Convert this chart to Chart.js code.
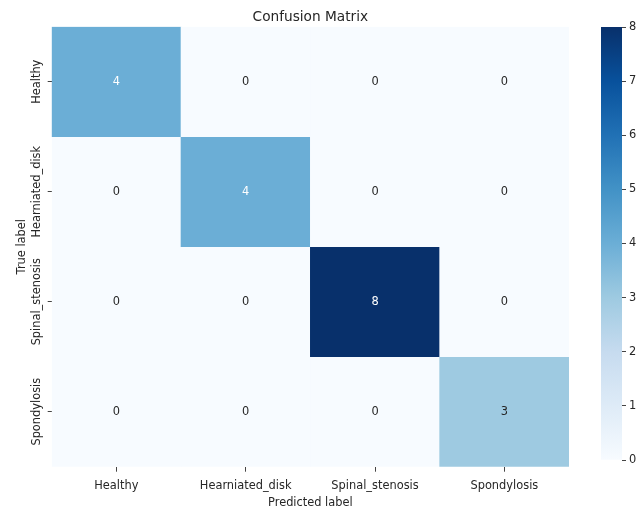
<!DOCTYPE html>
<html>
<head>
<meta charset="utf-8">
<script src="https://cdn.jsdelivr.net/npm/chart.js@4.4.1/dist/chart.umd.min.js"></script>
<style>
  html, body { margin: 0; padding: 0; background: #fff; overflow: hidden; }
  #wrap { position: relative; width: 636px; height: 508px; overflow: hidden; }
  #cm { position: absolute; left: 0; top: 0; }
  #cbar { position: absolute; left: 595px; top: 0; }
</style>
</head>
<body>
<div id="wrap">
  <canvas id="cm" width="636" height="508"></canvas>
  <canvas id="cbar" width="60" height="508"></canvas>
</div>
<script>
// class labels
const predictedLabels = ['Healthy', 'Hearniated_disk', 'Spinal_stenosis', 'Spondylosis'];
const trueLabels = ['Healthy', 'Hearniated_disk', 'Spinal_stenosis', 'Spondylosis'];

// rows = true label, columns = predicted label
const rowHealthy = [4, 0, 0, 0];
const rowHearniated = [0, 4, 0, 0];
const rowStenosis = [0, 0, 8, 0];
const rowSpondylosis = [0, 0, 0, 3];

// colorbar
const colorbarTicks = [0, 1, 2, 3, 4, 5, 6, 7, 8];
const colorbarMin = 0;
const colorbarMax = 8;

const matrix = [rowHealthy, rowHearniated, rowStenosis, rowSpondylosis];

// matplotlib "Blues"
const blues = ['#f7fbff', '#deebf7', '#c6dbef', '#9ecae1', '#6baed6', '#4292c6', '#2171b5', '#08519c', '#08306b'];
const textDark = '#262626';
const fontFamily = '"DejaVu Sans", sans-serif';
const fontSize = 11.4;

function hexToRgb(h) {
  const n = parseInt(h.slice(1), 16);
  return [(n >> 16) & 255, (n >> 8) & 255, n & 255];
}

function bluesAt(t) {
  t = Math.max(0, Math.min(1, t));
  const pos = t * (blues.length - 1);
  const i = Math.min(Math.floor(pos), blues.length - 2);
  const f = pos - i;
  const a = hexToRgb(blues[i]);
  const b = hexToRgb(blues[i + 1]);
  return a.map((v, k) => v + (b[k] - v) * f);
}

function colorFor(v) {
  const c = bluesAt((v - colorbarMin) / (colorbarMax - colorbarMin));
  return 'rgb(' + c.map(Math.round).join(',') + ')';
}

// white text on dark cells, like seaborn annot
function textColorFor(v) {
  const c = bluesAt((v - colorbarMin) / (colorbarMax - colorbarMin)).map(x => {
    x /= 255;
    return x <= 0.03928 ? x / 12.92 : Math.pow((x + 0.055) / 1.055, 2.4);
  });
  const lum = 0.2126 * c[0] + 0.7152 * c[1] + 0.0722 * c[2];
  return lum > 0.408 ? textDark : '#ffffff';
}

// numbers inside cells
const cellText = {
  id: 'cellText',
  afterDatasetsDraw(chart) {
    const ctx = chart.ctx;
    ctx.save();
    ctx.font = fontSize + 'px ' + fontFamily;
    ctx.textAlign = 'center';
    ctx.textBaseline = 'middle';
    chart.data.datasets.forEach((ds, i) => {
      chart.getDatasetMeta(i).data.forEach((bar, j) => {
        const v = matrix[i][j];
        ctx.fillStyle = textColorFor(v);
        ctx.fillText(String(v), bar.x, (bar.y + bar.base) / 2);
      });
    });
    ctx.restore();
  }
};

// rotated y tick labels
const yLabels = {
  id: 'yLabels',
  afterDraw(chart) {
    const ctx = chart.ctx;
    const y = chart.scales.y;
    ctx.save();
    ctx.font = fontSize + 'px ' + fontFamily;
    ctx.fillStyle = textDark;
    ctx.textAlign = 'center';
    ctx.textBaseline = 'middle';
    trueLabels.forEach((lab, i) => {
      ctx.save();
      ctx.translate(y.right - 14.5, y.getPixelForValue(i + 0.5));
      ctx.rotate(-Math.PI / 2);
      ctx.fillText(lab, 0, 0);
      ctx.restore();
    });
    ctx.restore();
  }
};

new Chart(document.getElementById('cm'), {
  type: 'bar',
  data: {
    labels: predictedLabels,
    datasets: matrix.map((row, i) => ({
      label: trueLabels[i],
      data: row.map(() => [i, i + 1]),
      backgroundColor: row.map(colorFor),
      borderWidth: 0,
      grouped: false,
      barPercentage: 1,
      categoryPercentage: 1
    }))
  },
  options: {
    responsive: false,
    animation: false,
    layout: { padding: { left: 0, right: 67, top: 0, bottom: -2 } },
    plugins: {
      legend: { display: false },
      tooltip: { enabled: false },
      title: {
        display: true,
        text: 'Confusion Matrix',
        fullSize: false,
        color: textDark,
        font: { family: fontFamily, size: 13.7, weight: 'normal' },
        padding: { top: 9, bottom: 1.3 }
      }
    },
    scales: {
      x: {
        type: 'category',
        offset: true,
        afterFit: s => { s.height = 43.3; },
        grid: { offset: false, drawOnChartArea: false, tickLength: 5, color: '#444' },
        border: { display: false },
        ticks: { color: textDark, font: { family: fontFamily, size: fontSize }, padding: 8, maxRotation: 0 },
        title: {
          display: true,
          text: 'Predicted label',
          color: textDark,
          font: { family: fontFamily, size: fontSize },
          padding: { top: 0, bottom: 0 }
        }
      },
      y: {
        type: 'linear',
        min: 0,
        max: 4,
        reverse: true,
        afterBuildTicks: s => { s.ticks = trueLabels.map((_, i) => ({ value: i + 0.5 })); },
        afterFit: s => { s.width = 51.7; },
        grid: { drawOnChartArea: false, tickLength: 4, color: '#444' },
        border: { display: false },
        ticks: { display: false },
        title: {
          display: true,
          text: 'True label',
          color: textDark,
          font: { family: fontFamily, size: fontSize },
          padding: { top: 15, bottom: 0 }
        }
      }
    }
  },
  plugins: [cellText, yLabels]
});

// colorbar
new Chart(document.getElementById('cbar'), {
  type: 'bar',
  data: {
    labels: [''],
    datasets: [{
      data: [[colorbarMin, colorbarMax]],
      backgroundColor: ctx => {
        const area = ctx.chart.chartArea;
        if (!area) return blues[0];
        const g = ctx.chart.ctx.createLinearGradient(0, area.bottom, 0, area.top);
        blues.forEach((c, i) => g.addColorStop(i / (blues.length - 1), c));
        return g;
      },
      borderWidth: 0,
      barPercentage: 1,
      categoryPercentage: 1
    }]
  },
  options: {
    responsive: false,
    animation: false,
    layout: { padding: { left: 6, right: 13, top: 27, bottom: 48 } },
    plugins: { legend: { display: false }, tooltip: { enabled: false } },
    scales: {
      x: { display: false },
      y: {
        position: 'right',
        min: colorbarMin,
        max: colorbarMax,
        afterBuildTicks: s => { s.ticks = colorbarTicks.map(v => ({ value: v })); },
        afterFit: s => { s.width = 20; },
        grid: { drawOnChartArea: false, tickLength: 4, color: '#444' },
        border: { display: false },
        ticks: { color: textDark, font: { family: fontFamily, size: fontSize }, padding: 3 }
      }
    }
  }
});
</script>
</body>
</html>
